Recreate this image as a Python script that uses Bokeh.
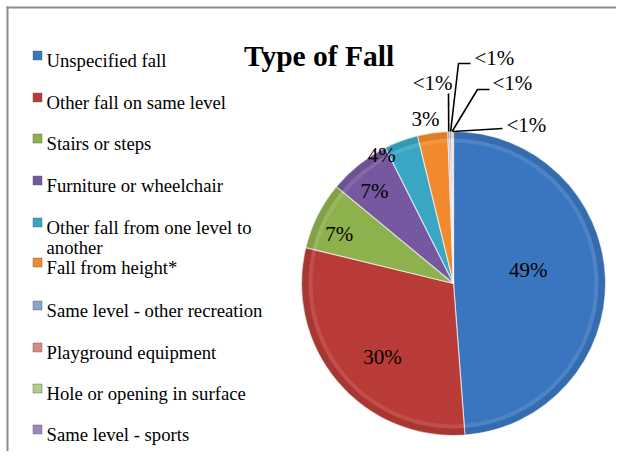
import math
from bokeh.plotting import figure
from bokeh.models import Range1d, ColumnDataSource
from bokeh.core.properties import value
from bokeh.embed import file_html
from bokeh.resources import INLINE

# ---- data ----
categories = [
    "Unspecified fall",
    "Other fall on same level",
    "Stairs or steps",
    "Furniture or wheelchair",
    "Other fall from one level to another",
    "Fall from height*",
    "Same level - other recreation",
    "Playground equipment",
    "Hole or opening in surface",
    "Same level - sports",
]
shares = [48.8, 30.0, 7.2, 6.6, 3.6, 3.2, 0.2, 0.2, 0.1, 0.1]
pct_labels = ["49%", "30%", "7%", "7%", "4%", "3%", "<1%", "<1%", "<1%", "<1%"]
title_text = "Type of Fall"

# ---- style ----
colors = ["#3A76BF", "#B93B37", "#8DB14C", "#7658A0", "#39A6C3", "#F18A2C",
          "#8AA3CF", "#D48A87", "#B1CB88", "#9C89BA"]
W, H = 616, 451
FONT = "Liberation Serif"

p = figure(width=W, height=H, x_range=Range1d(0, W), y_range=Range1d(0, H),
           min_border=0, toolbar_location=None, output_backend="svg")
p.axis.visible = False
p.grid.visible = False
p.outline_line_color = None
p.background_fill_color = "white"
p.border_fill_color = "white"

def Y(y):  # pixel row from top -> data y
    return H - y

# frame (left and top edges visible in the crop)
p.segment(x0=[7, 6], y0=[Y(6), Y(7)], x1=[7, W], y1=[Y(H), Y(7)],
          line_color="#8C8C8C", line_width=2)

# ---- pie ----
cx, cy, R = 453, Y(283), 152
total = sum(shares)
starts, ends, mids = [], [], []
acc = 0.0
for s in shares:
    a0 = acc / total * 360.0
    acc += s
    a1 = acc / total * 360.0
    starts.append(a0); ends.append(a1); mids.append((a0 + a1) / 2)

def bk(deg):  # clockwise-from-top degrees -> bokeh radians
    return math.radians(90.0 - deg)

src = ColumnDataSource(dict(
    start=[bk(a) for a in starts], end=[bk(a) for a in ends], color=colors))
p.wedge(x=cx, y=cy, radius=R, start_angle="start", end_angle="end",
        direction="clock", fill_color="color", line_color="white",
        line_alpha=0.6, line_width=1.2, source=src)
# bevel-like shading: darker rim, lighter inner ring
p.annular_wedge(x=cx, y=cy, inner_radius=R - 7, outer_radius=R,
                start_angle="start", end_angle="end", direction="clock",
                fill_color="black", fill_alpha=0.08, line_color=None, source=src)
p.annular_wedge(x=cx, y=cy, inner_radius=R - 11, outer_radius=R - 7,
                start_angle="start", end_angle="end", direction="clock",
                fill_color="white", fill_alpha=0.10, line_color=None, source=src)

# ---- inside / near labels ----
label_style = [(0.50, -8), (0.67, -5.5), (0.82, -3), (0.80, -2), (0.97, -9), (1.10, -1.7)]
lx, ly, lt = [], [], []
for i, (rf, dth) in enumerate(label_style):
    th = math.radians(mids[i] + dth)
    lx.append(cx + rf * R * math.sin(th))
    ly.append(cy + rf * R * math.cos(th))
    lt.append(pct_labels[i])
p.text(x=lx, y=ly, text=lt, text_font=value(FONT), text_font_size="21px",
       text_align="center", text_baseline="middle", text_color="black")

# ---- leader lines for tiny slices ----
# elbows relative to pie centre (dx, dy-up), label anchor and alignment
leader_style = [
    ([(-5, 190)], (-1, 201), "right"),
    ([(5, 220), (17, 220)], (21, 226), "left"),
    ([(24, 194), (36, 194)], (39, 201), "left"),
    ([(49, 155)], (53, 159), "left"),
]
xs, ys = [], []
for k, (elbows, lab, align) in enumerate(leader_style):
    i = 6 + k
    th = math.radians(mids[i])
    sx = cx + R * math.sin(th)
    sy = cy + R * math.cos(th)
    xs.append([sx] + [cx + e[0] for e in elbows])
    ys.append([sy] + [cy + e[1] for e in elbows])
    p.text(x=[cx + lab[0]], y=[cy + lab[1]], text=[pct_labels[i]],
           text_font=value(FONT), text_font_size="21px", text_align=align,
           text_baseline="middle", text_color="black")
p.multi_line(xs=xs, ys=ys, line_color="black", line_width=1.6)

# ---- title ----
p.text(x=[318.5], y=[Y(55)], text=[title_text], text_font=value(FONT),
       text_font_size="29.5px", text_font_style="bold", text_align="center",
       text_baseline="alphabetic", text_color="black")

# ---- legend ----
legend_baselines = [60, 102, 143, 185, 227, 267, 310, 352, 393, 434]
leg_lines = []
mx, my, mc = [], [], []
for i, name in enumerate(categories):
    b = legend_baselines[i]
    mx.append(37); my.append(Y(b - 5)); mc.append(colors[i])
    if name == "Other fall from one level to another":
        leg_lines.append(("Other fall from one level to", b))
        leg_lines.append(("another", b + 20))
    else:
        leg_lines.append((name, b))
p.rect(x=mx, y=my, width=9, height=9, fill_color=mc, line_color="#555555",
       line_alpha=0.5, line_width=0.8)
p.text(x=[46] * len(leg_lines), y=[Y(b) for _, b in leg_lines],
       text=[t for t, _ in leg_lines], text_font=value(FONT),
       text_font_size="18.7px", text_align="left", text_baseline="alphabetic",
       text_color="black")

open("out.html", "w").write(file_html(p, INLINE))
